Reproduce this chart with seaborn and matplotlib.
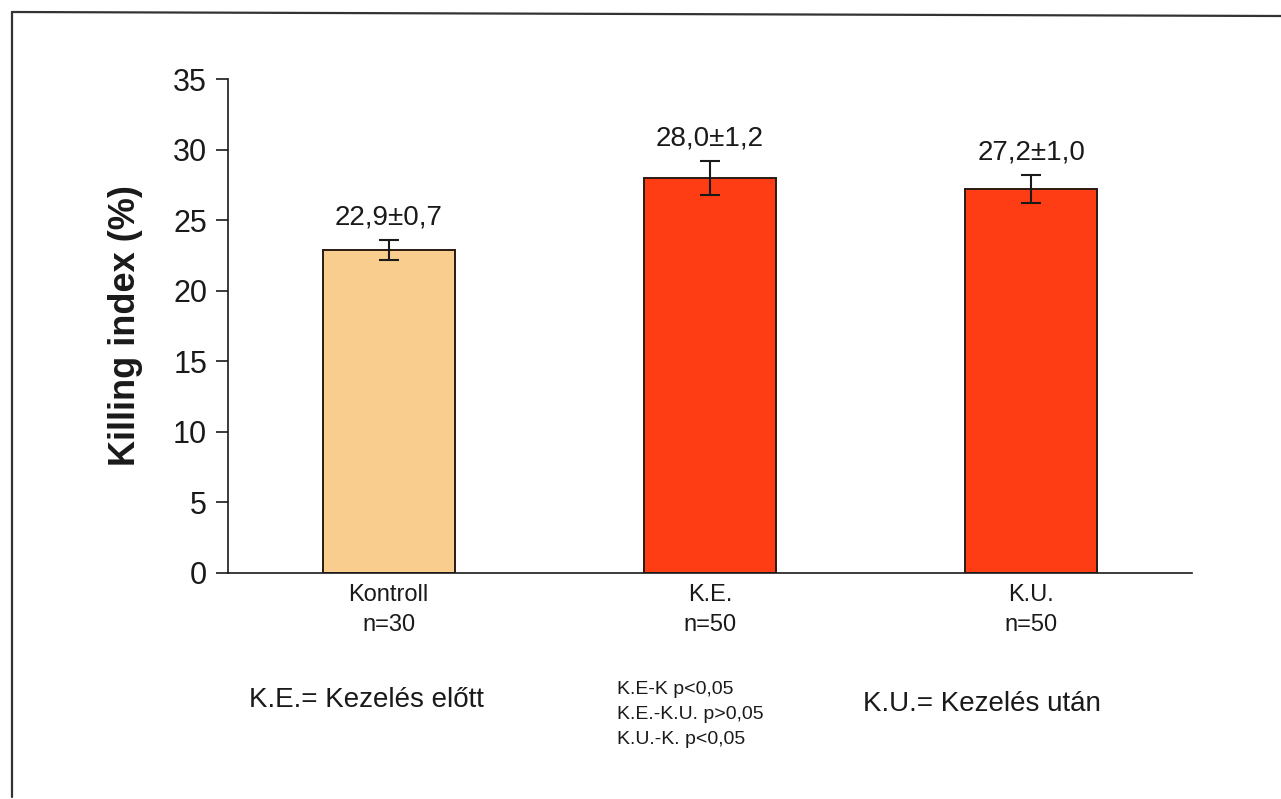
import matplotlib
matplotlib.use("Agg")
import matplotlib.pyplot as plt
from matplotlib.lines import Line2D
import seaborn as sns
import pandas as pd

# Data
groups = ["Kontroll", "K.E.", "K.U."]
group_n = ["n=30", "n=50", "n=50"]
means = [22.9, 28.0, 27.2]
sems = [0.7, 1.2, 1.0]
bar_colors = ["#F9CD8E", "#FF3D14", "#FF3D14"]
y_ticks = [0, 5, 10, 15, 20, 25, 30, 35]
stats_lines = ["K.E-K p<0,05", "K.E.-K.U. p>0,05", "K.U.-K. p<0,05"]

sns.set_theme(style="white")
plt.rcParams["font.family"] = ["Liberation Sans", "DejaVu Sans"]

df = pd.DataFrame({"group": groups, "mean": means})

fig = plt.figure(figsize=(12.81, 7.99), dpi=100)
ax = fig.add_axes([0.178, 0.2829, 0.7525, 0.6182])

sns.barplot(data=df, x="group", y="mean", hue="group", palette=bar_colors,
            legend=False, width=0.41, edgecolor="#2a1a14", linewidth=1.4,
            errorbar=None, ax=ax, saturation=1)

ax.errorbar(range(len(groups)), means, yerr=sems, fmt="none",
            ecolor="#1a1a1a", elinewidth=1.5, capsize=7, capthick=1.5)

for i, (m, s) in enumerate(zip(means, sems)):
    ax.annotate(f"{m:.1f}±{s:.1f}".replace(".", ","), xy=(i, m + s),
                xytext=(0, 7), textcoords="offset points",
                ha="center", va="bottom", fontsize=20, color="#1a1a1a")

ax.set_xlim(-0.5, 2.5)
ax.set_ylim(0, 35)
ax.set_yticks(y_ticks)
ax.set_yticklabels([str(t) for t in y_ticks], fontsize=22, color="#1a1a1a")
ax.set_xticks(range(len(groups)))
ax.set_xticklabels([f"{g}\n{n}" for g, n in zip(groups, group_n)],
                   fontsize=17, color="#1a1a1a", linespacing=1.45)
ax.tick_params(axis="y", direction="out", length=9, width=1.2, color="#1a1a1a",
               left=True, pad=6)
ax.tick_params(axis="x", length=0, pad=8)
ax.set_xlabel("")
ax.set_ylabel("Killing index (%)", fontsize=26, fontweight="bold",
              color="#1a1a1a", labelpad=22)

for side in ["top", "right"]:
    ax.spines[side].set_visible(False)
for side in ["left", "bottom"]:
    ax.spines[side].set_color("#1a1a1a")
    ax.spines[side].set_linewidth(1.2)

# Footnotes
fig.text(366 / 1281, 1 - 700 / 799, "K.E.= Kezelés előtt", ha="center",
         va="center", fontsize=20, color="#1a1a1a")
fig.text(982 / 1281, 1 - 704 / 799, "K.U.= Kezelés után", ha="center",
         va="center", fontsize=20, color="#1a1a1a")
for k, line in enumerate(stats_lines):
    fig.text(617 / 1281, 1 - (690 + 24.5 * k) / 799, line, ha="left",
             va="center", fontsize=14, color="#1a1a1a")

# Page frame
fig.add_artist(Line2D([12 / 1281, 12 / 1281], [1 - 12 / 799, 0.002],
                      transform=fig.transFigure, color="#333333", lw=1.6))
fig.add_artist(Line2D([12 / 1281, 1.0], [1 - 12 / 799, 1 - 16 / 799],
                      transform=fig.transFigure, color="#333333", lw=1.6))

fig.savefig("out.png", dpi=100)
